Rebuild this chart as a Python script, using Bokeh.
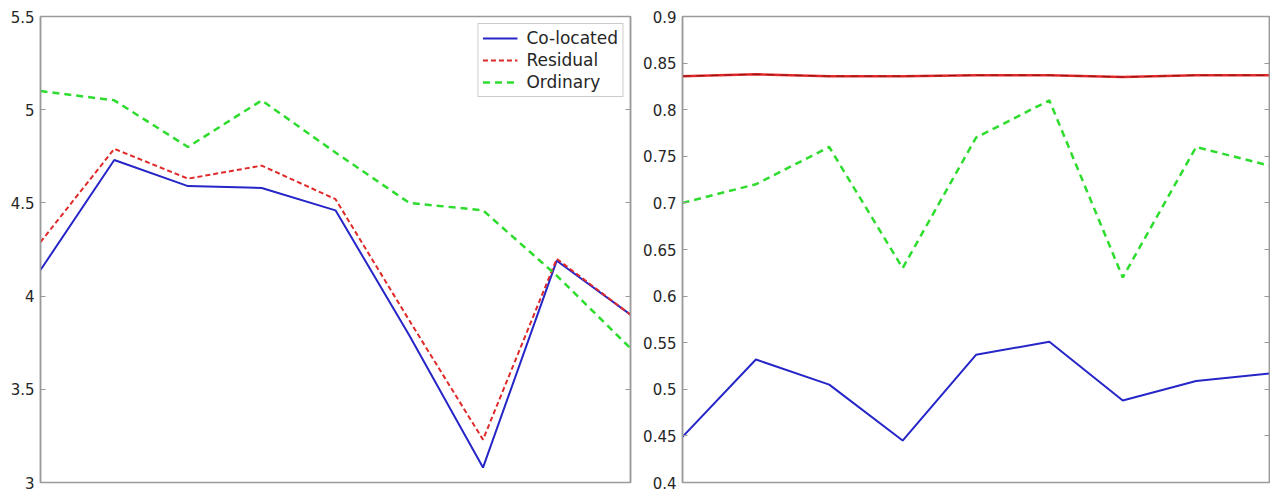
from bokeh.plotting import figure
from bokeh.layouts import row
from bokeh.models import (Range1d, LinearAxis, FixedTicker, Legend, LegendItem,
                          CustomLabelingPolicy)
from bokeh.embed import file_html
from bokeh.resources import INLINE

x = [1, 2, 3, 4, 5, 6, 7, 8, 9]

left_colocated = [4.14, 4.73, 4.59, 4.58, 4.46, 3.79, 3.08, 4.19, 3.90]
left_residual = [4.29, 4.79, 4.63, 4.70, 4.52, 3.87, 3.23, 4.20, 3.90]
left_ordinary = [5.10, 5.05, 4.80, 5.05, 4.77, 4.50, 4.46, 4.11, 3.72]

right_colocated = [0.449, 0.532, 0.505, 0.445, 0.537, 0.551, 0.488, 0.509, 0.517]
right_residual = [0.836, 0.838, 0.836, 0.836, 0.837, 0.837, 0.835, 0.837, 0.837]
right_ordinary = [0.700, 0.720, 0.760, 0.630, 0.770, 0.810, 0.620, 0.760, 0.740]

left_ticks = [3, 3.5, 4, 4.5, 5, 5.5]
left_labels = ["3", "3.5", "4", "4.5", "5", "5.5"]
right_ticks = [0.4, 0.45, 0.5, 0.55, 0.6, 0.65, 0.7, 0.75, 0.8, 0.85, 0.9]
right_labels = ["0.4", "0.45", "0.5", "0.55", "0.6", "0.65", "0.7", "0.75", "0.8", "0.85", "0.9"]

BLUE = "#2626c8"
RED = "#e02a2a"
GREEN = "#2edc2e"
FRAME = "#9a9a9a"
FONT = "DejaVu Sans"


def make_panel(ys, ticks, labels, border_left, border_right, frame_w):
    p = figure(frame_width=frame_w, frame_height=466, output_backend="svg",
               toolbar_location=None, x_range=Range1d(1, 9),
               y_range=Range1d(ys[0], ys[1]),
               min_border_left=border_left, min_border_right=border_right,
               min_border_top=16, min_border_bottom=10)
    p.xaxis.visible = False
    p.xgrid.visible = False
    p.ygrid.visible = False
    p.outline_line_color = FRAME
    p.outline_line_width = 1.5
    p.background_fill_color = "white"
    p.border_fill_color = "white"
    overrides = {t: l for t, l in zip(ticks, labels)}
    ax = p.yaxis[0]
    ax.ticker = FixedTicker(ticks=ticks)
    ax.major_label_overrides = overrides
    ax.major_tick_in = 5
    ax.major_tick_out = 0
    ax.minor_tick_line_color = None
    ax.axis_line_color = FRAME
    ax.axis_line_width = 1.5
    ax.major_tick_line_color = FRAME
    ax.major_label_text_font = FONT
    ax.major_label_text_font_size = "15px"
    ax.major_label_text_color = "#262626"
    ax.major_label_standoff = 6
    no_labels = CustomLabelingPolicy(code="""
        for (const i of Array.from(indices)) indices.unset(i)
        return indices
    """)
    rax = LinearAxis(ticker=FixedTicker(ticks=ticks), major_tick_in=5, major_tick_out=0,
                     minor_tick_line_color=None, axis_line_color=FRAME, axis_line_width=1.5,
                     major_tick_line_color=FRAME, major_label_policy=no_labels,
                     major_label_overrides={t: "" for t in ticks},
                     major_label_standoff=0)
    p.add_layout(rax, "right")
    return p


p1 = make_panel((3, 5.5), left_ticks, left_labels, 40, 6, 590)
r1 = p1.line(x, left_colocated, line_color=BLUE, line_width=2)
r2 = p1.line(x, left_residual, line_color=RED, line_width=2, line_dash="5 3")
r3 = p1.line(x, left_ordinary, line_color=GREEN, line_width=2.5, line_dash="7 5")
legend = Legend(items=[LegendItem(label="Co-located", renderers=[r1]),
                       LegendItem(label="Residual", renderers=[r2]),
                       LegendItem(label="Ordinary", renderers=[r3])],
                location="top_right")
legend.label_text_font = FONT
legend.label_text_font_size = "17px"
legend.label_text_color = "#262626"
legend.border_line_color = FRAME
legend.border_line_width = 1.5
legend.glyph_width = 35
legend.glyph_height = 20
legend.label_height = 20
legend.spacing = 2
legend.padding = 4
legend.margin = 7
legend.label_standoff = 9
p1.add_layout(legend)

p2 = make_panel((0.4, 0.9), right_ticks, right_labels, 46, 1, 587)
p2.line(x, right_colocated, line_color=BLUE, line_width=2)
p2.line(x, right_residual, line_color=RED, line_width=2.5)
p2.line(x, right_residual, line_color="#8a1010", line_width=1, line_dash="8 6")
p2.line(x, right_ordinary, line_color=GREEN, line_width=2.5, line_dash="7 5")

layout = row(p1, p2, spacing=0)
open("out.html", "w").write(file_html(layout, INLINE))
